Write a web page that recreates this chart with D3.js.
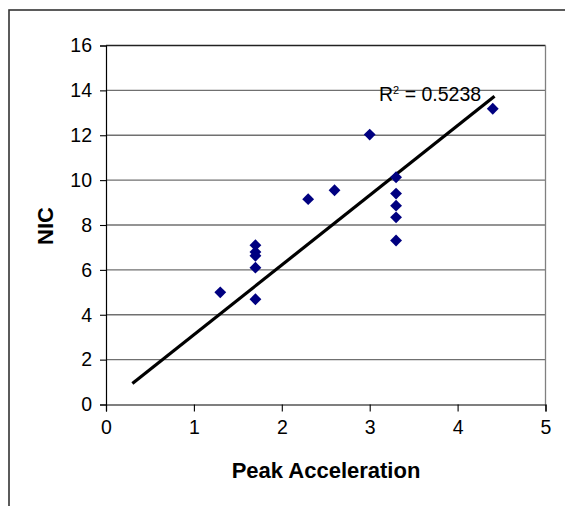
<!DOCTYPE html>
<html>
<head>
<meta charset="utf-8">
<script src="https://cdn.jsdelivr.net/npm/d3@7"></script>
<style>
  html, body { margin: 0; padding: 0; background: #fff; }
  svg { display: block; }
  text { font-family: "Liberation Sans", Arial, sans-serif; }
</style>
</head>
<body>
<svg id="chart" width="565" height="506"></svg>
<script>
// ---- data ----
const peakAcceleration = [1.3, 1.7, 1.7, 1.7, 1.7, 1.7, 2.3, 2.6, 3.0, 3.3, 3.3, 3.3, 3.3, 3.3, 4.4];
const nicValues        = [5.0, 7.1, 6.8, 6.63, 6.1, 4.69, 9.15, 9.55, 12.03, 10.13, 9.4, 8.86, 8.34, 7.31, 13.18];
const xTicks = [0, 1, 2, 3, 4, 5];
const yTicks = [0, 2, 4, 6, 8, 10, 12, 14, 16];
const trendRange = [0.3, 4.42];          // extent of the drawn trendline
const rSquaredLabel = "0.5238";
const xTitle = "Peak Acceleration";
const yTitle = "NIC";

// ---- layout ----
const svg = d3.select("#chart");
const plot = { left: 106, right: 545.5, top: 45.5, bottom: 404.5 };

const x = d3.scaleLinear().domain([0, 5]).range([plot.left, plot.right]);
const y = d3.scaleLinear().domain([0, 16]).range([plot.bottom, plot.top]);

// outer chart border (right/bottom edges fall outside the window)
svg.append("rect")
  .attr("x", 9).attr("y", 10).attr("width", 600).attr("height", 600)
  .attr("fill", "none").attr("stroke", "#333").attr("stroke-width", 1.6);

// gridlines
svg.append("g").selectAll("line").data(yTicks.filter(d => d > 0)).join("line")
  .attr("x1", plot.left).attr("x2", plot.right)
  .attr("y1", d => y(d)).attr("y2", d => y(d))
  .attr("stroke", d => d === 16 ? "#222" : "#707070").attr("stroke-width", 1.3);

// plot area right border
svg.append("line")
  .attr("x1", plot.right).attr("x2", plot.right)
  .attr("y1", plot.top).attr("y2", plot.bottom)
  .attr("stroke", "#808080").attr("stroke-width", 1.3);

// axes
const yAxis = d3.axisLeft(y).tickValues(yTicks).tickSize(6).tickPadding(8).tickFormat(d3.format("d"));
const xAxis = d3.axisBottom(x).tickValues(xTicks).tickSize(7).tickPadding(9).tickFormat(d3.format("d"));

const gy = svg.append("g").attr("transform", `translate(${plot.left},0)`).call(yAxis);
const gx = svg.append("g").attr("transform", `translate(0,${plot.bottom})`).call(xAxis);
[gx, gy].forEach(g => {
  g.select(".domain").attr("stroke", "#000").attr("stroke-width", 1.2);
  g.selectAll(".tick line").attr("stroke", "#000").attr("stroke-width", 1.1);
  g.selectAll(".tick text").attr("fill", "#000")
    .style("font-family", '"Liberation Sans", Arial, sans-serif').style("font-size", "19.5px");
});

// trendline: least squares through origin, computed from the data
const sxy = d3.sum(peakAcceleration, (d, i) => d * nicValues[i]);
const sxx = d3.sum(peakAcceleration, d => d * d);
const slope = sxy / sxx;
svg.append("line")
  .attr("x1", x(trendRange[0])).attr("y1", y(slope * trendRange[0]))
  .attr("x2", x(trendRange[1])).attr("y2", y(slope * trendRange[1]))
  .attr("stroke", "#000").attr("stroke-width", 3.2);

// markers (diamonds)
svg.append("g").selectAll("path").data(peakAcceleration).join("path")
  .attr("d", d3.symbol().type(d3.symbolSquare).size(70))
  .attr("transform", (d, i) => `translate(${x(d)},${y(nicValues[i])}) rotate(45)`)
  .attr("fill", "#000080");

// R² label
const rt = svg.append("text").attr("x", 379).attr("y", 101)
  .style("font-size", "19.5px").attr("fill", "#000");
rt.append("tspan").text("R");
rt.append("tspan").text("2").style("font-size", "11px").attr("dy", -7);
rt.append("tspan").text(" = " + rSquaredLabel).attr("dy", 7);

// axis titles
svg.append("text").attr("x", 326).attr("y", 478).attr("text-anchor", "middle")
  .style("font-size", "22px").style("font-weight", "bold").text(xTitle);
svg.append("text").attr("transform", "translate(53,226) rotate(-90)").attr("text-anchor", "middle")
  .style("font-size", "22px").style("font-weight", "bold").text(yTitle);
</script>
</body>
</html>
